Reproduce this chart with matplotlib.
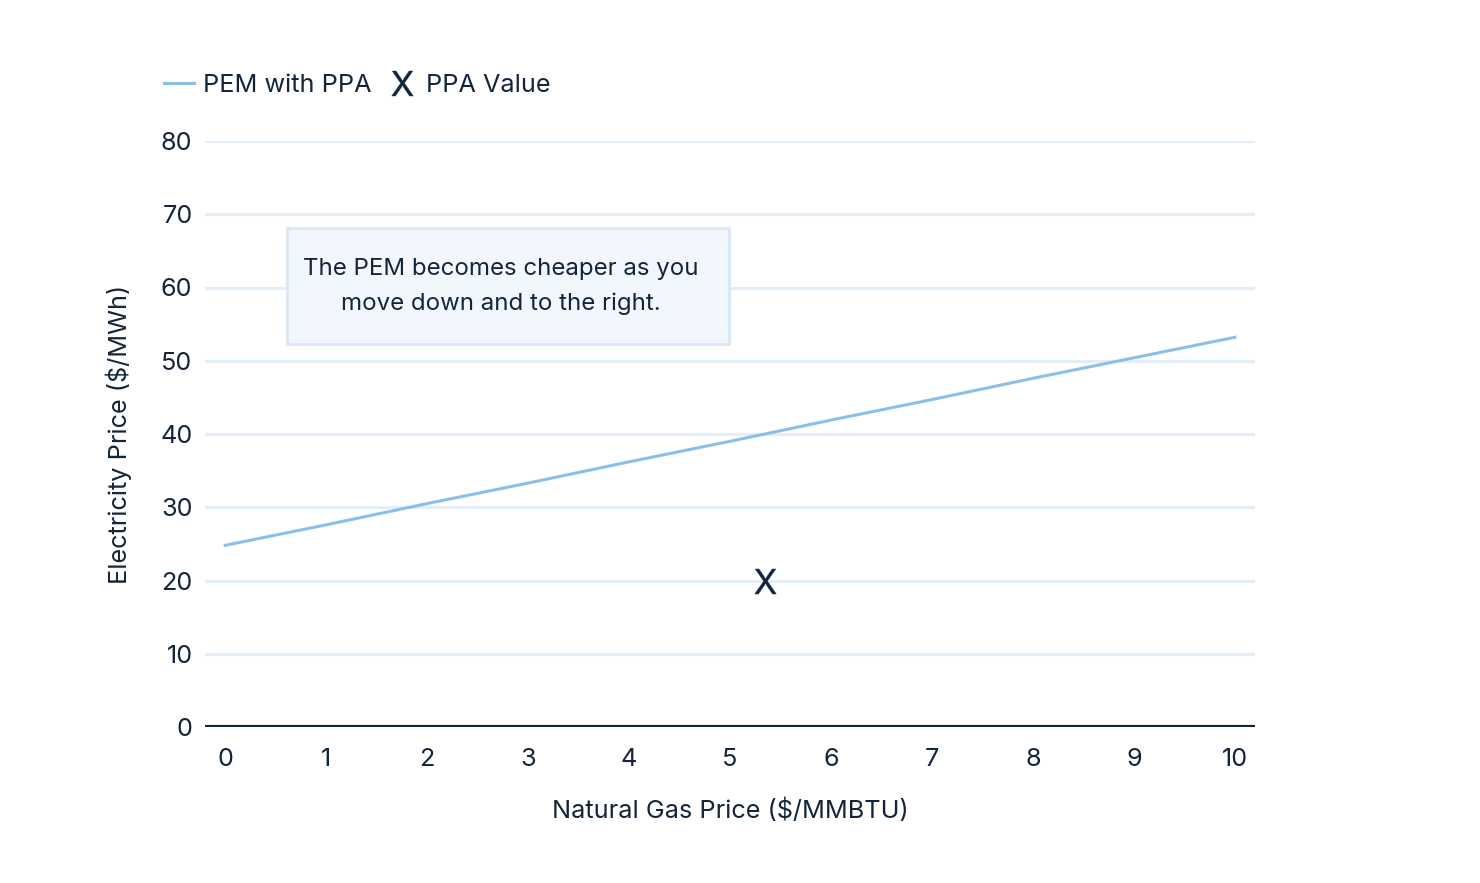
import matplotlib
matplotlib.use("Agg")
import matplotlib.pyplot as plt
from matplotlib.patches import Rectangle

# Data
gas_price = [0, 1, 2, 3, 4, 5, 6, 7, 8, 9, 10]
pem_with_ppa = [24.8, 27.6, 30.5, 33.3, 36.2, 39.0, 41.9, 44.7, 47.6, 50.4, 53.2]
ppa_gas = [5.35]
ppa_value = [20]
y_ticks = [0, 10, 20, 30, 40, 50, 60, 70, 80]
x_ticks = [0, 1, 2, 3, 4, 5, 6, 7, 8, 9, 10]
note = "The PEM becomes cheaper as you\nmove down and to the right."

navy = "#13253b"
line_blue = "#8cbfe8"
grid_blue = "#e2eef9"
fs = 18.2

plt.rcParams['font.family'] = ['Inter', 'DejaVu Sans']
plt.rcParams['mathtext.fontset'] = 'custom'
plt.rcParams['mathtext.rm'] = 'Inter'

fig = plt.figure(figsize=(14.8, 8.83), dpi=100)
ax = fig.add_axes([205 / 1480, 1 - 727 / 883, 1050 / 1480, 586 / 883])

ax.set_xlim(-0.2, 10.2)
ax.set_ylim(0, 80)

# gridlines (skip 0, that one is the dark baseline)
for y in y_ticks[1:]:
    ax.axhline(y, color=grid_blue, lw=2.2, zorder=0)
ax.axhline(0, color=navy, lw=3, zorder=3)

ax.plot(gas_price, pem_with_ppa, color=line_blue, lw=2.2, label="PEM with PPA", zorder=2)
ax.plot(ppa_gas, ppa_value, ls="none", marker=r"$\mathrm{X}$", ms=18, mew=0.3,
        color=navy, label="PPA Value", zorder=4)

# annotation box
ax.add_patch(Rectangle((0.61, 52.3), 4.38, 15.8, facecolor="#f2f7fd",
                       edgecolor="#d9e8f6", lw=2, zorder=3))
ax.text(2.73, 60.1, note, ha="center", va="center", fontsize=17.3,
        color=navy, linespacing=1.7, zorder=4)

for s in ax.spines.values():
    s.set_visible(False)
ax.set_yticks(y_ticks)
ax.set_xticks(x_ticks)
ax.tick_params(length=0, labelsize=fs, labelcolor=navy)
ax.tick_params(axis="y", pad=9)
ax.tick_params(axis="x", pad=15)

ax.set_xlabel("Natural Gas Price (\\$/MMBTU)", fontsize=fs, color=navy, labelpad=20)
ax.set_ylabel("Electricity Price (\\$/MWh)", fontsize=fs, color=navy, labelpad=20)

ax.legend(loc="center left", bbox_to_anchor=(141 / 1480, 1 - 85 / 883),
          bbox_transform=fig.transFigure, ncol=2, frameon=False,
          fontsize=fs, labelcolor=navy, handlelength=1.2, handletextpad=0.35,
          columnspacing=0.6)

fig.savefig("out.png", dpi=100, facecolor="white")
